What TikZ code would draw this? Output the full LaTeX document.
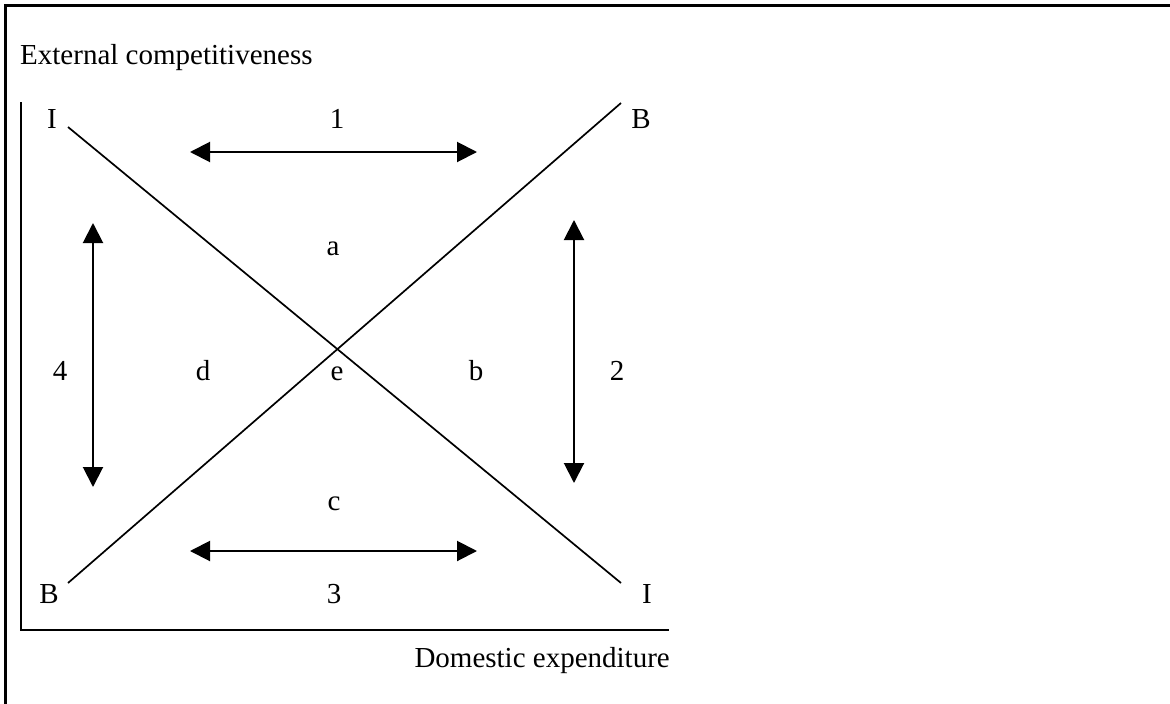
\documentclass[tikz,border=0pt]{standalone}
\usepackage{fontspec}
\setmainfont{Liberation Serif}
\usetikzlibrary{arrows.meta}
\begin{document}
\begin{tikzpicture}[x=1pt,y=-1pt,
  lbl/.style={inner sep=0pt, anchor=base, font=\fontsize{29}{34}\selectfont},
  ln/.style={line width=1.7pt},
  dbl/.style={line width=2pt, {Triangle[length=20pt,width=20pt]}-{Triangle[length=20pt,width=20pt]}}]
\useasboundingbox (0,0) rectangle (1170,704);
% frame (top and left edges visible)
\draw[line width=3pt] (5,704) -- (5,5) -- (1170,5);
% axes
\coordinate (ytop) at (21,102);
\coordinate (orig) at (21,630);
\coordinate (xend) at (669,630);
\draw[line width=2pt] (ytop) -- (orig) -- (xend);
\node[lbl, anchor=base west] (ytitle) at (20,64) {External competitiveness};
\node[lbl, anchor=base east] (xtitle) at (670,667) {Domestic expenditure};
% schedules
\coordinate (Ia) at (68,127);
\coordinate (Ib) at (621,583);
\coordinate (Ba) at (68,583);
\coordinate (Bb) at (621,103);
\draw[ln] (Ia) -- (Ib);
\draw[ln] (Ba) -- (Bb);
% end labels
\node[lbl] (lIa) at (52,128) {I};
\node[lbl] (lBb) at (641,128) {B};
\node[lbl] (lBa) at (49,603) {B};
\node[lbl] (lIb) at (647,603) {I};
% arrows
\coordinate (a1l) at (190,152);
\coordinate (a1r) at (477,152);
\coordinate (a3l) at (190,551);
\coordinate (a3r) at (477,551);
\coordinate (a4t) at (93,223);
\coordinate (a4b) at (93,487);
\coordinate (a2t) at (574,220);
\coordinate (a2b) at (574,483);
\draw[dbl] (a1l) -- (a1r);
\draw[dbl] (a3l) -- (a3r);
\draw[dbl] (a4t) -- (a4b);
\draw[dbl] (a2t) -- (a2b);
% numbers
\node[lbl] (n1) at (337,128) {1};
\node[lbl] (n2) at (617,380) {2};
\node[lbl] (n3) at (334,603) {3};
\node[lbl] (n4) at (60,380) {4};
% regions
\node[lbl] (ra) at (333,255) {a};
\node[lbl] (rb) at (476,380) {b};
\node[lbl] (rc) at (334,510) {c};
\node[lbl] (rd) at (203,380) {d};
\node[lbl] (re) at (337,380) {e};
\end{tikzpicture}
\end{document}
